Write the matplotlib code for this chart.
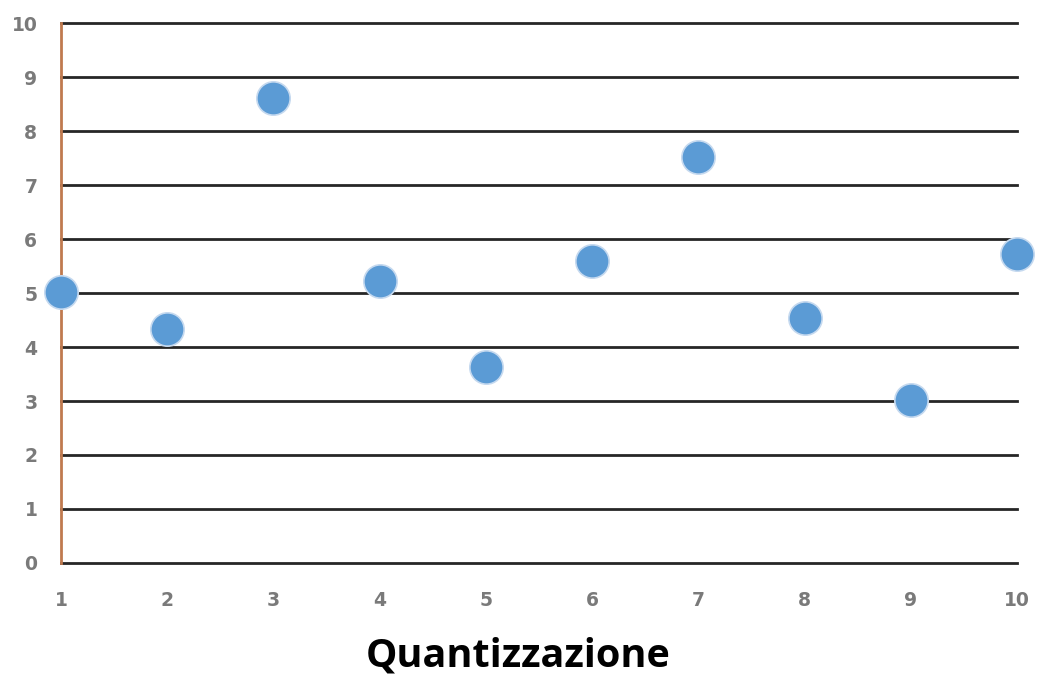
import matplotlib.pyplot as plt
import numpy as np

# misure per livello di quantizzazione
livelli = [1, 2, 3, 4, 5, 6, 7, 8, 9, 10]
valori = [5.02, 4.33, 8.61, 5.22, 3.63, 5.6, 7.52, 4.53, 3.02, 5.73]
y_ticks = list(range(0, 11))

fig = plt.figure(figsize=(10.37, 6.84), dpi=100)
ax = fig.add_axes([0.0588, 0.177, 0.922, 0.789])

for y in y_ticks:
    ax.axhline(y, color='#262626', lw=2, zorder=1, clip_on=False)

ax.plot(livelli, valori, 'o', ms=24, color='#5b9bd5', mec='#c5d9ef', mew=1.2,
        clip_on=False, zorder=3)

ax.set_xlim(1, 10)
ax.set_ylim(0, 10)
ax.set_xticks(livelli)
ax.set_yticks(y_ticks)
ax.tick_params(length=0, labelsize=13.5, labelcolor='#7a7a7a')
ax.tick_params(axis='x', pad=20)
ax.tick_params(axis='y', pad=17)
for lab in ax.get_xticklabels() + ax.get_yticklabels():
    lab.set_fontweight('bold')

for s in ['top', 'right', 'bottom']:
    ax.spines[s].set_visible(False)
ax.spines['left'].set_color('#c07a4f')
ax.spines['left'].set_linewidth(2)
ax.spines['left'].set_zorder(2)

fig.text(0.5, 0.012, 'Quantizzazione', ha='center', va='bottom',
         fontsize=28.5, fontweight='bold', family='Open Sans')

fig.savefig('out.png', dpi=100)
